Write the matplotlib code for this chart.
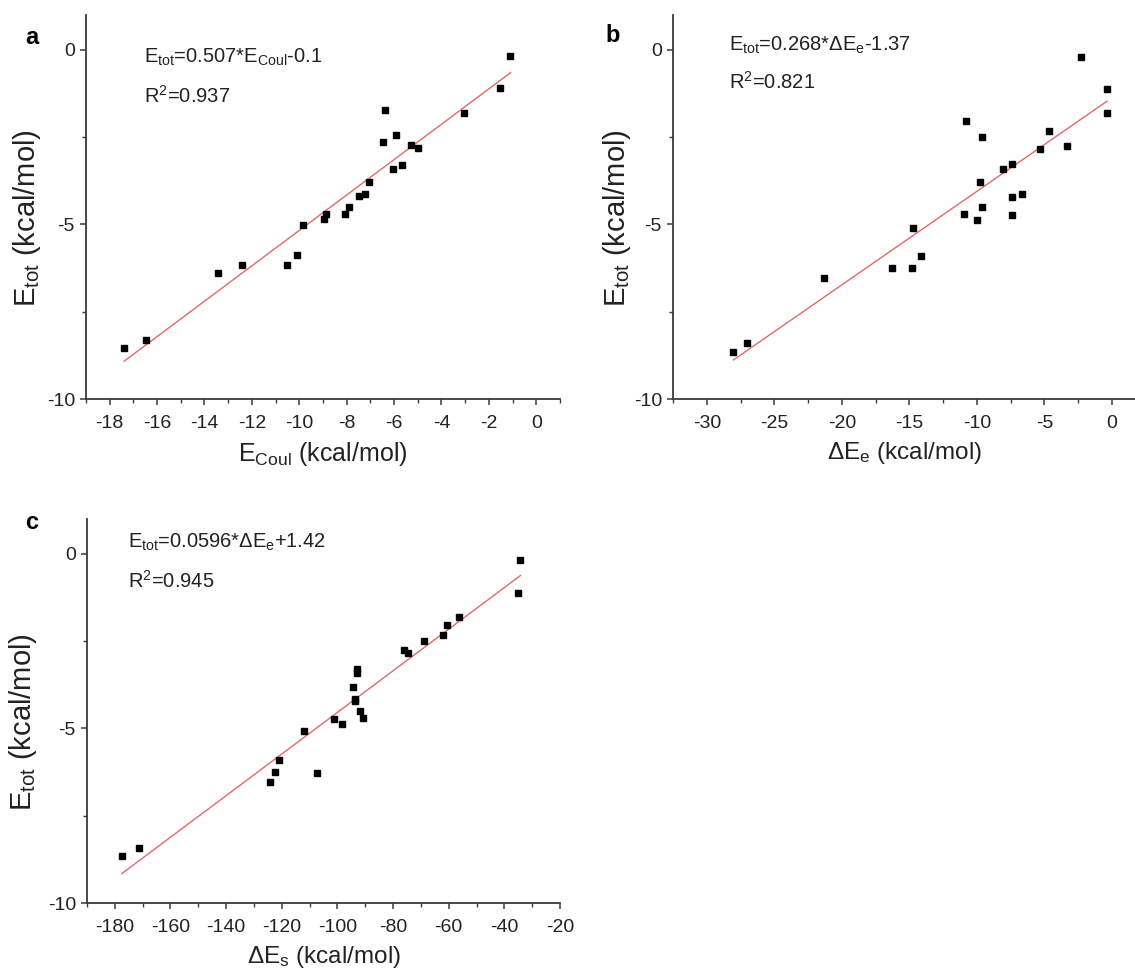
import matplotlib
matplotlib.use("Agg")
import matplotlib.pyplot as plt
from matplotlib.ticker import MultipleLocator
import numpy as np

plt.rcParams["font.family"] = ["Liberation Sans", "DejaVu Sans"]
plt.rcParams["mathtext.fontset"] = "custom"
plt.rcParams["mathtext.rm"] = "Liberation Sans"
plt.rcParams["mathtext.it"] = "Liberation Sans"
plt.rcParams["mathtext.bf"] = "Liberation Sans:bold"
plt.rcParams["axes.unicode_minus"] = False

# ── data ─────────────────────────────────────────────
# panel a: E_Coul vs E_tot
coul_x = [-17.39, -16.45, -13.43, -12.41, -10.53, -10.11, -9.85, -8.94, -8.89,
          -8.09, -7.92, -7.47, -7.21, -7.06, -6.45, -6.38, -6.03, -5.90, -5.65,
          -5.27, -5.01, -3.05, -1.55, -1.09]
coul_y = [-8.55, -8.31, -6.39, -6.17, -6.17, -5.87, -5.02, -4.84, -4.71,
          -4.70, -4.49, -4.19, -4.12, -3.78, -2.65, -1.71, -3.42, -2.45, -3.29,
          -2.71, -2.81, -1.80, -1.09, -0.17]
coul_fit = (0.507, -0.1)

# panel b: dE_e vs E_tot
de_x = [-28.03, -27.01, -21.31, -16.27, -14.78, -14.15, -14.75, -10.94, -10.00,
        -9.63, -9.74, -10.81, -9.63, -8.08, -7.40, -7.40, -6.69, -7.43, -5.30,
        -4.70, -3.36, -2.31, -0.37, -0.37]
de_y = [-8.64, -8.40, -6.53, -6.25, -6.25, -5.89, -5.09, -4.70, -4.86,
        -4.51, -3.79, -2.04, -2.49, -3.41, -3.28, -4.21, -4.14, -4.73, -2.84,
        -2.33, -2.75, -0.19, -1.12, -1.82]
de_fit = (0.268, -1.37)

# panel c: dE_s vs E_tot
ds_x = [-177.5, -171.3, -124.3, -122.4, -120.9, -112.1, -107.2, -101.4, -98.4,
        -94.5, -93.5, -93.5, -93.0, -93.0, -91.8, -90.7, -76.0, -74.7, -68.9,
        -62.1, -60.5, -56.4, -35.0, -34.2]
ds_y = [-8.66, -8.42, -6.54, -6.25, -5.91, -5.08, -6.27, -4.72, -4.86,
        -3.80, -4.15, -4.22, -3.29, -3.41, -4.49, -4.70, -2.74, -2.83, -2.49,
        -2.32, -2.03, -1.80, -1.11, -0.17]
ds_fit = (0.0596, 1.42)

W, H = 1135, 971
fig = plt.figure(figsize=(W / 100, H / 100), dpi=100)

ax_a = fig.add_axes([86 / W, 1 - 399 / H, 474 / W, 384 / H])
ax_b = fig.add_axes([673 / W, 1 - 399 / H, 462 / W, 384 / H])
ax_c = fig.add_axes([87 / W, 1 - 903 / H, 473 / W, 384 / H])

EDGE = "#3a3a3a"
TXT = "#222222"


def style(ax, xlim, xmaj, xmin, ylab_x):
    ax.set_xlim(*xlim)
    ax.set_ylim(-10, 1)
    ax.xaxis.set_major_locator(MultipleLocator(xmaj))
    ax.xaxis.set_minor_locator(MultipleLocator(xmin))
    ax.yaxis.set_major_locator(MultipleLocator(5))
    ax.yaxis.set_minor_locator(MultipleLocator(2.5))
    for s in ["top", "right"]:
        ax.spines[s].set_visible(False)
    for s in ["left", "bottom"]:
        ax.spines[s].set_color(EDGE)
        ax.spines[s].set_linewidth(1.3)
    ax.tick_params(which="both", direction="out", colors=EDGE, labelsize=14,
                   labelcolor=TXT)
    ax.tick_params(which="major", length=4.5, width=1.1)
    ax.tick_params(which="minor", length=3, width=1.0)
    ax.tick_params(axis="x", which="both", pad=7)
    ax.tick_params(axis="y", which="both", pad=3.5)
    ax.set_ylabel(r"E$_{\mathregular{tot}}$ (kcal/mol)", fontsize=21, color=TXT)
    # label anchor is the right side of the rotated text
    ax.yaxis.set_label_coords(ylab_x, 0.47)


def scatter_fit(ax, x, y, fit):
    ax.plot(x, y, "s", color="black", ms=3.8, mec="black", zorder=3)
    xs = np.array([min(x), max(x)])
    ax.plot(xs, fit[0] * xs + fit[1], color="#E06A6A", lw=1.0, zorder=2)


style(ax_a, (-19, 1), 2, 1, -43 / 474)
scatter_fit(ax_a, coul_x, coul_y, coul_fit)
ax_a.set_xlabel(r"E$_{\mathregular{Coul}}$ (kcal/mol)", fontsize=18, color=TXT, labelpad=6)
ax_a.text(-16.55, -0.38, r"E$_{\mathregular{tot}}$=0.507*E$_{\mathregular{Coul}}$-0.1",
          fontsize=14.5, va="baseline", color=TXT)
ax_a.text(-16.55, -1.52, r"R$^{\mathregular{2}}$=0.937", fontsize=14.5, va="baseline",
          color=TXT)

style(ax_b, (-32.5, 1.7), 5, 2.5, -40 / 462)
scatter_fit(ax_b, de_x, de_y, de_fit)
ax_b.set_xlabel(r"ΔE$_{\mathregular{e}}$ (kcal/mol)", fontsize=17.5, color=TXT, labelpad=6)
ax_b.text(-28.35, -0.02, r"E$_{\mathregular{tot}}$=0.268*ΔE$_{\mathregular{e}}$-1.37",
          fontsize=14.5, va="baseline", color=TXT)
ax_b.text(-28.35, -1.11, r"R$^{\mathregular{2}}$=0.821", fontsize=14.5, va="baseline",
          color=TXT)

style(ax_c, (-190, -20), 20, 10, -48 / 473)
scatter_fit(ax_c, ds_x, ds_y, ds_fit)
ax_c.set_xlabel(r"ΔE$_{\mathregular{s}}$ (kcal/mol)", fontsize=17.5, color=TXT, labelpad=6)
ax_c.text(-175.1, 0.17, r"E$_{\mathregular{tot}}$=0.0596*ΔE$_{\mathregular{e}}$+1.42",
          fontsize=14.5, va="baseline", color=TXT)
ax_c.text(-175.1, -0.97, r"R$^{\mathregular{2}}$=0.945", fontsize=14.5, va="baseline",
          color=TXT)

fig.text(32 / W, 1 - 37 / H, "a", fontsize=17, fontweight="bold", ha="center", va="center")
fig.text(613 / W, 1 - 36 / H, "b", fontsize=17, fontweight="bold", ha="center", va="center")
fig.text(32 / W, 1 - 522 / H, "c", fontsize=17, fontweight="bold", ha="center", va="center")

fig.savefig("out.png", dpi=100)
